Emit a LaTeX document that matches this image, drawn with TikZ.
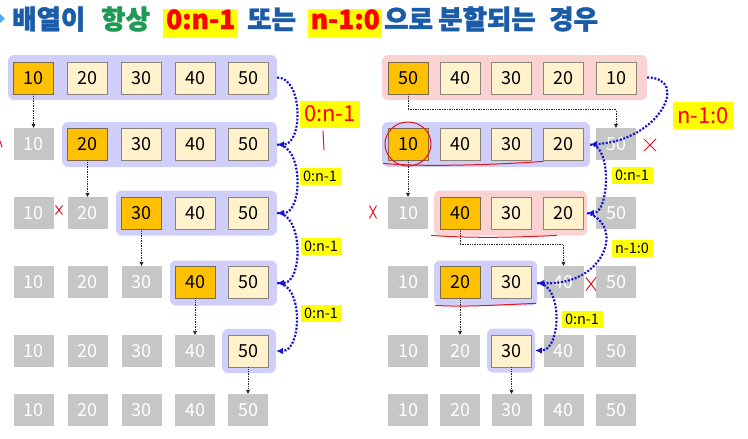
\documentclass[tikz,border=0pt]{standalone}
\usepackage{fontspec}
\newfontfamily\krfont{Noto Sans CJK KR}
\newfontfamily\krtitle{Noto Sans CJK KR}[BoldFeatures={FakeBold=1.6}]
\usetikzlibrary{arrows.meta,shapes.misc}

\definecolor{cellorange}{HTML}{FFC000}
\definecolor{cellcream}{HTML}{FFF2CC}
\definecolor{cellgray}{HTML}{C6C6C6}
\definecolor{borderdark}{HTML}{7A6A4A}
\definecolor{bordergray}{HTML}{8A8478}
\definecolor{groupblue}{HTML}{CFCFFA}
\definecolor{grouppink}{HTML}{F9D2D1}
\definecolor{titleblue}{HTML}{1A5CA8}
\definecolor{titlegreen}{HTML}{1F9A55}
\definecolor{arrowblue}{HTML}{1414D2}
\definecolor{markyellow}{HTML}{FFFF00}
\definecolor{penred}{HTML}{E8141B}

\tikzset{
  cell/.style={minimum width=40pt,minimum height=32pt,inner sep=0pt,font=\krfont\fontsize{18}{18}\selectfont},
  pivotcell/.style={cell,fill=cellorange,draw=borderdark,line width=0.8pt},
  itemcell/.style={cell,fill=cellcream,draw=bordergray,line width=0.8pt},
  donecell/.style={cell,fill=cellgray,text=white},
  bluegroup/.style={fill=groupblue,rounded corners=6pt,minimum height=45pt,inner sep=0pt},
  pinkgroup/.style={bluegroup,fill=grouppink},
  dropline/.style={draw=black!85,densely dotted,line width=0.7pt,-{Triangle[length=4pt,width=4pt]}},
  splitarrow/.style={draw=arrowblue,line width=2.2pt,dash pattern=on 2pt off 1.6pt,-{Latex[length=7pt,width=7pt]}},
  smalltag/.style={fill=markyellow,inner sep=0pt,minimum width=41pt,minimum height=17pt,font=\krfont\fontsize{14.5}{14.5}\selectfont},
  bigtag/.style={fill=markyellow,inner sep=0pt,minimum width=60pt,minimum height=27pt,text=red,font=\krfont\fontsize{22}{22}\selectfont},
  redpen/.style={draw=penred,line width=1pt,line cap=round},
  crossmark/.style={cross out,draw=penred,line width=1pt,inner sep=0pt},
  headword/.style={inner sep=0pt,anchor=base west,font=\krtitle\bfseries\fontsize{26.5}{26.5}\selectfont},
  hilite/.style={headword,fill=markyellow,text=red,text height=19.5pt,text depth=7.5pt,inner ysep=1pt,inner xsep=1pt},
}

\begin{document}
\begin{tikzpicture}[x=1pt,y=-1pt]
  \useasboundingbox (0,0) rectangle (748,439);
  % title
  \fill[cyan!80!blue!70] (0,14) -- (5,18.5) -- (0,23) -- cycle;
  \node[headword,text=titleblue] (t1) at (12,29) {배열이};
  \node[headword,text=titlegreen] (t2) at (101,29) {항상};
  \node[hilite,minimum width=75pt] (t3) at (163,29) {0:n-1};
  \node[headword,text=titleblue] (t4) at (247,29) {또는};
  \node[hilite,minimum width=74pt] (t5) at (308,29) {n-1:0};
  \node[headword,text=titleblue] (t6) at (384,29) {으로};
  \node[headword,text=titleblue] (t7) at (438,29) {분할되는};
  \node[headword,text=titleblue] (t8) at (549,29) {경우};

  % groups, left side
  \node[bluegroup,minimum width=269pt] (lg1) at (142.5,77.5) {};
  \node[bluegroup,minimum width=215pt] (lg2) at (169.5,144.5) {};
  \node[bluegroup,minimum width=161pt] (lg3) at (196.5,213) {};
  \node[bluegroup,minimum width=107pt] (lg4) at (223.5,283) {};
  \node[bluegroup,minimum width=54pt,minimum height=44pt] (lg5) at (249,351) {};
  % groups, right side
  \node[pinkgroup,minimum width=265pt] (rg1) at (514.5,77.5) {};
  \node[bluegroup,minimum width=208pt] (rg2) at (486,144.5) {};
  \node[pinkgroup,minimum width=153pt] (rg3) at (510.5,213) {};
  \node[bluegroup,minimum width=103pt] (rg4) at (485.5,283) {};
  \node[bluegroup,minimum width=48pt,minimum height=44pt] (rg5) at (511,350.5) {};

  % left cells
  \node[pivotcell] (l11) at (33.5,78) {10};
  \node[itemcell] (l12) at (87.5,78) {20};
  \node[itemcell] (l13) at (141.5,78) {30};
  \node[itemcell] (l14) at (195,78) {40};
  \node[itemcell] (l15) at (248,78) {50};

  \node[donecell] (l21) at (33.5,144) {10};
  \node[pivotcell] (l22) at (87.5,144) {20};
  \node[itemcell] (l23) at (141.5,144) {30};
  \node[itemcell] (l24) at (195,144) {40};
  \node[itemcell] (l25) at (248,144) {50};

  \node[donecell] (l31) at (33.5,213) {10};
  \node[donecell] (l32) at (87.5,213) {20};
  \node[pivotcell] (l33) at (141.5,213) {30};
  \node[itemcell] (l34) at (195,213) {40};
  \node[itemcell] (l35) at (248,213) {50};

  \node[donecell] (l41) at (33.5,282) {10};
  \node[donecell] (l42) at (87.5,282) {20};
  \node[donecell] (l43) at (141.5,282) {30};
  \node[pivotcell] (l44) at (195,282) {40};
  \node[itemcell] (l45) at (248,282) {50};

  \node[donecell] (l51) at (33.5,351) {10};
  \node[donecell] (l52) at (87.5,351) {20};
  \node[donecell] (l53) at (141.5,351) {30};
  \node[donecell] (l54) at (195,351) {40};
  \node[itemcell] (l55) at (248,351) {50};

  \node[donecell] (l61) at (33.5,410) {10};
  \node[donecell] (l62) at (87.5,410) {20};
  \node[donecell] (l63) at (141.5,410) {30};
  \node[donecell] (l64) at (195,410) {40};
  \node[donecell] (l65) at (248,410) {50};

  % right cells
  \node[pivotcell] (r11) at (408,78) {50};
  \node[itemcell] (r12) at (460,78) {40};
  \node[itemcell] (r13) at (511.5,78) {30};
  \node[itemcell] (r14) at (563.5,78) {20};
  \node[itemcell] (r15) at (616,78) {10};

  \node[pivotcell] (r21) at (408,144) {10};
  \node[itemcell] (r22) at (460,144) {40};
  \node[itemcell] (r23) at (511.5,144) {30};
  \node[itemcell] (r24) at (563.5,144) {20};
  \node[donecell] (r25) at (616,144) {50};

  \node[donecell] (r31) at (408,213) {10};
  \node[pivotcell] (r32) at (460,213) {40};
  \node[itemcell] (r33) at (511.5,213) {30};
  \node[itemcell] (r34) at (563.5,213) {20};
  \node[donecell] (r35) at (616,213) {50};

  \node[donecell] (r41) at (408,282) {10};
  \node[pivotcell] (r42) at (460,282) {20};
  \node[itemcell] (r43) at (511.5,282) {30};
  \node[donecell] (r44) at (563.5,282) {40};
  \node[donecell] (r45) at (616,282) {50};

  \node[donecell] (r51) at (408,351) {10};
  \node[donecell] (r52) at (460,351) {20};
  \node[itemcell] (r53) at (511.5,351) {30};
  \node[donecell] (r54) at (563.5,351) {40};
  \node[donecell] (r55) at (616,351) {50};

  \node[donecell] (r61) at (408,410) {10};
  \node[donecell] (r62) at (460,410) {20};
  \node[donecell] (r63) at (511.5,410) {30};
  \node[donecell] (r64) at (563.5,410) {40};
  \node[donecell] (r65) at (616,410) {50};

  % pivot drops
  \draw[dropline] (l11.south) -- (l21.north);
  \draw[dropline] (l22.south) -- (l32.north);
  \draw[dropline] (l33.south) -- (l43.north);
  \draw[dropline] (l44.south) -- (l54.north);
  \draw[dropline] (l55.south) -- (l65.north);
  \draw[dropline] (r11.south) |- ([yshift=18pt]r25.north) -- (r25.north);
  \draw[dropline] (r21.south) -- (r31.north);
  \draw[dropline] (r32.south) |- ([yshift=21pt]r44.north) -- (r44.north);
  \draw[dropline] (r42.south) -- (r52.north);
  \draw[dropline] (r53.south) -- (r63.north);

  % split arrows
  \draw[splitarrow] (lg1.east) .. controls +(26,0) and +(26,0) .. (lg2.east);
  \draw[splitarrow] (lg2.east) .. controls +(26,0) and +(26,0) .. (lg3.east);
  \draw[splitarrow] (lg3.east) .. controls +(26,0) and +(26,0) .. (lg4.east);
  \draw[splitarrow] (lg4.east) .. controls +(26,0) and +(26,0) .. (lg5.east);
  \draw[splitarrow] (rg1.east) .. controls +(43,0) and +(70,-4) .. (rg2.east);
  \draw[splitarrow] (rg2.east) .. controls +(22,0) and +(22,0) .. (rg3.east);
  \draw[splitarrow] (rg3.east) .. controls +(38,12) and +(68,3) .. (rg4.east);
  \draw[splitarrow] (rg4.east) .. controls +(26,0) and +(26,0) .. (rg5.east);

  \node[bigtag] (tagl1) at (330,114) {0:n-1};
  \node[smalltag] (tagl2) at (320,176.5) {0:n-1};
  \node[smalltag] (tagl3) at (321,246.5) {0:n-1};
  \node[smalltag] (tagl4) at (321,313.5) {0:n-1};
  \node[bigtag] (tagr1) at (703,115.5) {n-1:0};
  \node[smalltag] (tagr2) at (632,175) {0:n-1};
  \node[smalltag] (tagr3) at (632,248.5) {n-1:0};
  \node[smalltag] (tagr4) at (582,319.5) {0:n-1};

  % red pen marks
  \draw[redpen] (323,131) -- (324,150);
  \draw[redpen] (0,141) -- (2,147);
  \draw[redpen] (r21) circle [x radius=23pt, y radius=22pt];
  \draw[redpen] ([xshift=-4pt,yshift=-3pt]r21.south west) .. controls +(40,4) and +(-40,3) .. ([yshift=-1pt]r24.south west);
  \draw[redpen] ([xshift=-8pt,yshift=-6pt]r32.south west) .. controls +(40,3) and +(-40,2) .. ([xshift=-7pt,yshift=-6pt]r34.south);
  \draw[redpen] ([xshift=-4pt,yshift=-7pt]r42.south west) .. controls +(30,2) and +(-30,1) .. ([xshift=4pt,yshift=-5pt]r43.south east);
  \node[crossmark,minimum width=11pt,minimum height=11pt] (x1) at (650,145) {};
  \node[crossmark,minimum width=9pt,minimum height=12pt] (x2) at (591,284) {};
  \node[crossmark,minimum width=6pt,minimum height=12pt] (x3) at (373,212) {};
  \node[crossmark,minimum width=6pt,minimum height=8pt] (x4) at (59,210) {};
\end{tikzpicture}
\end{document}
